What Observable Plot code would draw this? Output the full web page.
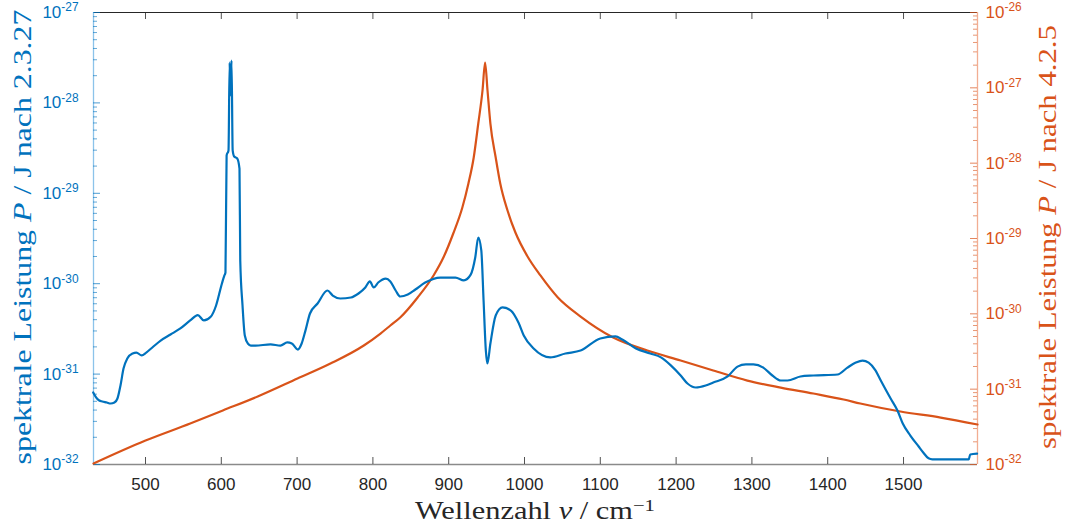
<!DOCTYPE html>
<html>
<head>
<meta charset="utf-8">
<script src="https://cdn.jsdelivr.net/npm/d3@7"></script>
<script src="https://cdn.jsdelivr.net/npm/@observablehq/plot@0.6"></script>
<style>
  html, body { margin: 0; padding: 0; background: #fff; overflow: hidden; }
  #chart svg { display: block; }
</style>
</head>
<body>
<div id="chart"></div>
<script>
// ---------------- data ----------------
// blue: spektrale Leistung nach 2.3.27 (left axis)
const blueWavenumber = [431,435,439,443,449,454,459,463,467,471,476,483,488,495,501,509,520,533,546,559,569,577,586,593,600,602,604,605.5,607,609.5,611,612,613.5,615,617,621,624,625,628,631,635,639,645,665,678,687,693,701,706,711,717,727,740,747,757,771,781,790,796,801,807,817,823,830,836,846,856,869,889,909,920,929,935,939,943,946,949,951,955,962,971,982,992,999,1012,1034,1054,1074,1100,1120,1129,1147,1166,1180,1193,1206,1215,1226,1239,1249,1268,1281,1292,1302,1315,1327,1338,1347,1364,1381,1413,1426,1437,1446,1454,1463,1470,1483,1492,1499,1509,1520,1526,1533,1538,1586,1588,1597];
const bluePower = [6.26e-32,5.5e-32,5.1e-32,4.98e-32,4.85e-32,4.73e-32,4.85e-32,5.37e-32,7.48e-32,1.15e-31,1.49e-31,1.69e-31,1.73e-31,1.61e-31,1.73e-31,1.97e-31,2.35e-31,2.74e-31,3.2e-31,3.92e-31,4.5e-31,3.92e-31,4.3e-31,5.7e-31,9.5e-31,1.09e-30,1.23e-30,1.33e-30,2.62e-29,2.98e-29,2.8e-28,1.21e-28,2.94e-28,2.98e-29,2.55e-29,2.43e-29,1.88e-29,1.81e-30,5.74e-31,2.67e-31,2.18e-31,2.07e-31,2.07e-31,2.13e-31,2.07e-31,2.24e-31,2.18e-31,1.87e-31,2.18e-31,3.03e-31,4.68e-31,6.04e-31,8.41e-31,7.4e-31,6.86e-31,7.04e-31,7.79e-31,9.08e-31,1.06e-30,9.08e-31,1.03e-30,1.14e-30,1.06e-30,8.41e-31,7.22e-31,7.59e-31,8.63e-31,1.03e-30,1.17e-30,1.17e-30,1.09e-30,1.26e-30,1.95e-30,3.24e-30,2.33e-30,6.52e-31,1.82e-31,1.31e-31,2.18e-31,4.45e-31,5.46e-31,5.05e-31,3.72e-31,2.67e-31,1.92e-31,1.53e-31,1.69e-31,1.82e-31,2.48e-31,2.61e-31,2.41e-31,1.92e-31,1.69e-31,1.53e-31,1.25e-31,9.65e-32,7.87e-32,7.11e-32,7.48e-32,8.07e-32,9.41e-32,1.21e-31,1.28e-31,1.28e-31,1.18e-31,9.65e-32,8.5e-32,8.5e-32,9.41e-32,9.65e-32,9.9e-32,1.18e-31,1.34e-31,1.41e-31,1.34e-31,1.1e-31,8.5e-32,5.37e-32,3.96e-32,2.84e-32,2.09e-32,1.58e-32,1.36e-32,1.17e-32,1.14e-32,1.14e-32,1.29e-32,1.32e-32];

// orange: spektrale Leistung nach 4.2.5 (right axis)
const orangeWavenumber = [431.4,500,559,602,648,700.5,744,788,810,823,836,859,880,893,906,918,926,933,939,944.6,948,951.2,955,962,968,977.6,988,1004,1021,1044,1074,1117,1162,1206,1249,1294,1338,1381,1421,1443,1496,1549,1597.6];
const orangePower = [1.03e-32,2.08e-32,3.5e-32,5.21e-32,7.99e-32,1.385e-31,2.19e-31,3.8e-31,5.48e-31,7.0e-31,8.94e-31,1.647e-30,3.23e-30,5.59e-30,1.165e-29,2.58e-29,5.37e-29,1.189e-28,3.36e-28,9.22e-28,2.17e-27,9.22e-28,3.36e-28,1.189e-28,5.37e-29,2.35e-29,1.2e-29,5.77e-30,3.23e-30,1.647e-30,9.21e-31,4.85e-31,3.26e-31,2.4e-31,1.77e-31,1.3e-31,1.05e-31,8.75e-32,7.29e-32,6.45e-32,5.05e-32,4.2e-32,3.4e-32];

// tick values
const xTicks = [500,600,700,800,900,1000,1100,1200,1300,1400,1500];
const leftExponents = [-32,-31,-30,-29,-28,-27];
const rightExponents = [-32,-31,-30,-29,-28,-27,-26];
const xDomain = [431.4, 1597.6];

// ---------------- layout ----------------
const W = 1065, H = 530, mL = 93, mR = 88, mT = 12, mB = 66;
const iW = W - mL - mR, iH = H - mT - mB;
const BLUE = "#0072BD", ORANGE = "#D95319";

// right axis spans 6 decades over the same height as the 5 decades on the left
const toLeft = v => Math.pow(10, -32 + (Math.log10(v) + 32) * 5 / 6);

const blue = blueWavenumber.map((x, i) => ({x, p: bluePower[i]}));
const orange = orangeWavenumber.map((x, i) => ({x, p: toLeft(orangePower[i])}));

const leftMajor = leftExponents.map(k => Math.pow(10, k));
const rightMajor = rightExponents.map(k => ({k, y: toLeft(Math.pow(10, k))}));
const leftMinor = [], rightMinor = [];
for (const k of leftExponents.slice(0, -1)) for (let m = 2; m <= 9; m++) leftMinor.push(m * Math.pow(10, k));
for (const k of rightExponents.slice(0, -1)) for (let m = 2; m <= 9; m++) rightMinor.push(toLeft(m * Math.pow(10, k)));

const svg = Plot.plot({
  width: W, height: H,
  marginLeft: mL, marginRight: mR, marginTop: mT, marginBottom: mB,
  style: {background: "#fff", fontFamily: "'Liberation Sans', Arial, sans-serif", overflow: "visible"},
  x: {domain: xDomain},
  y: {type: "log", domain: [1e-32, 1e-27]},
  marks: [
    Plot.axisX(xTicks, {anchor: "bottom", tickSize: 0, tickPadding: 13, fontSize: 17, color: "#262626", label: null,
      tickFormat: d => String(d)}),
    Plot.axisY(leftMajor, {anchor: "left", tickSize: 0, tickPadding: 15, fontSize: 17, color: BLUE, label: null,
      tickFormat: d => "10^" + Math.round(Math.log10(d))}),
    // right-axis labels (second scale, mapped onto the shared y scale)
    Plot.text(rightMajor, {y: "y", frameAnchor: "right", dx: 8, textAnchor: "start", fontSize: 17, fill: ORANGE,
      text: d => "10^" + d.k}),
    // box
    Plot.ruleY([1e-27], {stroke: "#262626", strokeWidth: 1}),
    Plot.ruleY([1e-32], {stroke: "#8a8a8a", strokeWidth: 1.6}),
    Plot.ruleX([xDomain[0]], {stroke: "#8cc3ea", strokeWidth: 1.3}),
    Plot.ruleX([xDomain[1]], {stroke: "#f2ad92", strokeWidth: 1.3}),
    // inward ticks
    Plot.tickX(xTicks, {x: d => d, insetTop: iH - 7, stroke: "#262626", strokeWidth: 0.8}),
    Plot.tickX(xTicks, {x: d => d, insetBottom: iH - 7, stroke: "#262626", strokeWidth: 0.8}),
    Plot.tickY(leftMajor, {y: d => d, insetRight: iW - 7, stroke: BLUE, strokeOpacity: 0.7}),
    Plot.tickY(leftMinor, {y: d => d, insetRight: iW - 4, stroke: BLUE, strokeOpacity: 0.6}),
    Plot.tickY(rightMajor, {y: "y", insetLeft: iW - 7, stroke: ORANGE, strokeOpacity: 0.7}),
    Plot.tickY(rightMinor, {y: d => d, insetLeft: iW - 4, stroke: ORANGE, strokeOpacity: 0.6}),
    // data
    Plot.line(orange, {x: "x", y: "p", stroke: ORANGE, strokeWidth: 2.2, curve: "monotone-x"}),
    Plot.line(blue, {x: "x", y: "p", stroke: BLUE, strokeWidth: 2.2, curve: "monotone-x"})
  ]
});

document.getElementById("chart").append(svg);
const s = d3.select(svg);

// superscript exponents for the log tick labels
s.selectAll("text").each(function () {
  const m = /^10\^(-?\d+)$/.exec(this.textContent);
  if (!m) return;
  const t = d3.select(this);
  t.selectAll("*").remove();
  t.text(null);
  t.append("tspan").text("10");
  t.append("tspan").attr("dy", "-0.55em").attr("font-size", "0.7em").text(m[1]);
});

// axis titles (serif, LaTeX-like)
function addTitle(x, y, rotate, parts, fill, size, target) {
  const g = s.append("g");
  const t = g.append("text")
    .attr("text-anchor", "middle")
    .attr("font-family", "'Liberation Serif', 'DejaVu Serif', serif")
    .attr("font-size", size)
    .attr("fill", fill);
  for (const p of parts) {
    const ts = t.append("tspan").text(p.text);
    if (p.italic) ts.attr("font-style", "italic");
    if (p.sup) ts.attr("dy", "-0.45em").attr("font-size", "0.68em");
  }
  const w = t.node().getBBox().width;
  const k = target / w;
  g.attr("transform", `translate(${x},${y}) rotate(${rotate}) scale(${k},1)`);
}

addTitle(535, 519, 0, [
  {text: "Wellenzahl "}, {text: "ν", italic: true}, {text: " / cm"}, {text: "−1", sup: true}
], "#262626", 26, 240);

addTitle(31, 237, -90, [
  {text: "spektrale Leistung "}, {text: "P", italic: true}, {text: " / J nach 2.3.27"}
], BLUE, 26, 455);

addTitle(1056, 237, -90, [
  {text: "spektrale Leistung "}, {text: "P", italic: true}, {text: " / J nach 4.2.5"}
], ORANGE, 26, 424);
</script>
</body>
</html>
